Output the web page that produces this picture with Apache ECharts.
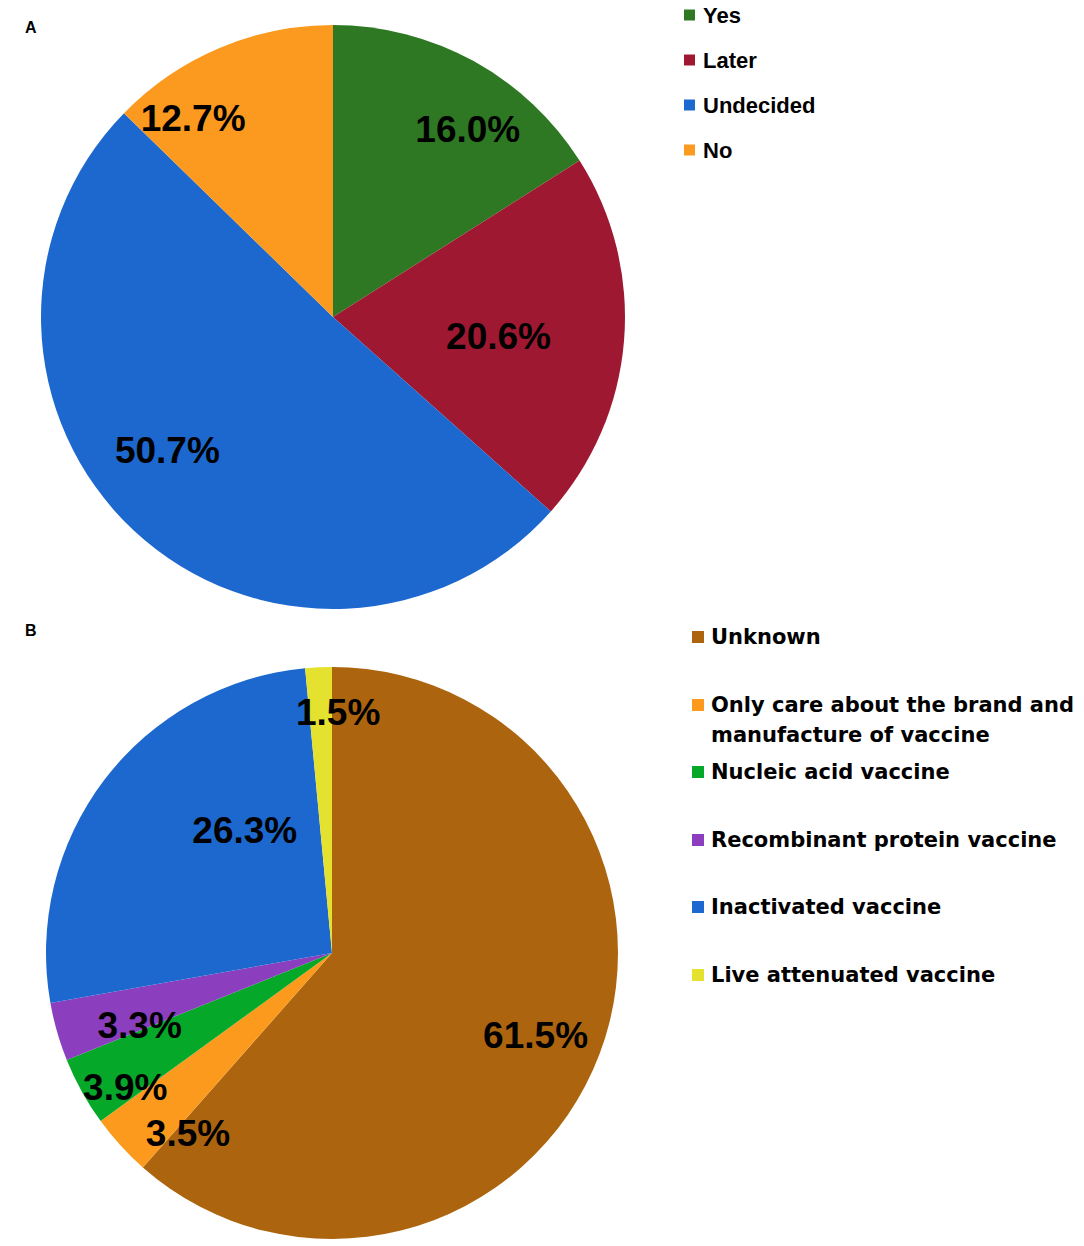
<!DOCTYPE html>
<html>
<head>
<meta charset="utf-8">
<script src="https://cdn.jsdelivr.net/npm/echarts@6/dist/echarts.min.js"></script>
<style>
html,body{margin:0;padding:0;background:#fff;}
#chart{width:1084px;height:1246px;}
</style>
</head>
<body>
<div id="chart"></div>
<script>
// ---- Data ----
const categoriesA = ['Yes', 'Later', 'Undecided', 'No'];
const valuesA = [16.0, 20.6, 50.7, 12.7];
const categoriesB = ['Unknown', 'Only care about the brand and manufacture of vaccine', 'Nucleic acid vaccine', 'Recombinant protein vaccine', 'Inactivated vaccine', 'Live attenuated vaccine'];
const valuesB = [61.5, 3.5, 3.9, 3.3, 26.3, 1.5];

// ---- Styles ----
const colorsA = ['#2E7823', '#9E1832', '#1C68CF', '#FB9A1E'];
const colorsB = ['#AC650E', '#FC9A1E', '#06A82A', '#8B3EBE', '#1C68CF', '#E4E22E'];
const labelShiftA = [[63, -57], [17, 7], [-64, 25], [-82, -61]];
const labelShiftB = [[67, 31], [-36, 82], [-79, 64], [-52, 32], [29, -34], [13, -95]];
const legendCentersB = [637, 705, 772, 840, 907, 975];

const chart = echarts.init(document.getElementById('chart'), null, {renderer: 'svg'});

function pieData(names, vals, colors) {
  return names.map((n, i) => ({name: n, value: vals[i], itemStyle: {color: colors[i]}}));
}

const labelStyle = {
  show: true,
  position: 'inside',
  color: '#000',
  fontFamily: 'Liberation Sans, Arial, sans-serif',
  fontWeight: 'bold',
  fontSize: 37,
  textBorderWidth: 0,
  formatter: p => p.value.toFixed(1) + '%'
};

const legendsB = categoriesB.map((name, i) => {
  const twoLine = i === 1;
  return {
    orient: 'vertical',
    left: 692,
    top: twoLine ? legendCentersB[i] - 45 : legendCentersB[i] - 15,
    padding: 0,
    itemWidth: 12,
    itemHeight: 12,
    icon: 'rect',
    selectedMode: false,
    data: [name],
    formatter: n => twoLine ? ' \nOnly care about the brand and\nmanufacture of vaccine' : n,
    textStyle: {
      fontFamily: 'DejaVu Sans, Verdana, sans-serif',
      fontWeight: 'bold',
      fontSize: 21,
      lineHeight: 30,
      color: '#000',
      padding: [0, 0, 0, 2]
    }
  };
});

const option = {
  animation: false,
  backgroundColor: '#fff',
  title: [
    {text: 'A', left: 25, top: 19, padding: 0, textStyle: {fontFamily: 'Liberation Sans, Arial', fontWeight: 'bold', fontSize: 16, color: '#000'}},
    {text: 'B', left: 25, top: 622, padding: 0, textStyle: {fontFamily: 'Liberation Sans, Arial', fontWeight: 'bold', fontSize: 16, color: '#000'}}
  ],
  legend: [
    {
      orient: 'vertical',
      left: 684,
      top: 0,
      padding: 0,
      itemWidth: 11,
      itemHeight: 11,
      itemGap: 15,
      icon: 'rect',
      selectedMode: false,
      data: categoriesA,
      textStyle: {
        fontFamily: 'Liberation Sans, Arial, sans-serif',
        fontWeight: 'bold',
        fontSize: 22,
        lineHeight: 30,
        color: '#000',
        padding: [0, 0, 0, 3]
      }
    }
  ].concat(legendsB),
  series: [
    {
      type: 'pie',
      center: [333, 317],
      radius: [0, 292],
      startAngle: 90,
      clockwise: true,
      avoidLabelOverlap: false,
      label: labelStyle,
      labelLine: {show: false},
      labelLayout: p => ({dx: labelShiftA[p.dataIndex][0], dy: labelShiftA[p.dataIndex][1]}),
      itemStyle: {borderWidth: 0},
      emphasis: {disabled: true},
      data: pieData(categoriesA, valuesA, colorsA)
    },
    {
      type: 'pie',
      center: [332, 953],
      radius: [0, 286],
      startAngle: 90,
      clockwise: true,
      avoidLabelOverlap: false,
      label: labelStyle,
      labelLine: {show: false},
      labelLayout: p => ({dx: labelShiftB[p.dataIndex][0], dy: labelShiftB[p.dataIndex][1]}),
      itemStyle: {borderWidth: 0},
      emphasis: {disabled: true},
      data: pieData(categoriesB, valuesB, colorsB)
    }
  ]
};

chart.setOption(option);
</script>
</body>
</html>
